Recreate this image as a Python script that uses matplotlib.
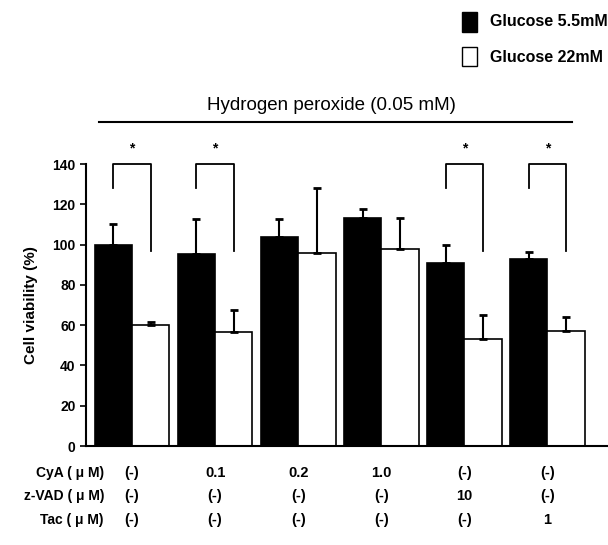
import matplotlib
matplotlib.use("Agg")
import matplotlib.pyplot as plt
from matplotlib.patches import Rectangle
import numpy as np

plt.rcParams['font.family'] = ['Liberation Sans', 'DejaVu Sans']

# valores
grupos = np.arange(6)
glucosa_55 = [100, 95.5, 104, 113, 91, 93]
glucosa_55_err = [10, 17, 8.5, 4.5, 9, 3.5]
glucosa_22 = [60, 56.5, 96, 98, 53, 57]
glucosa_22_err = [1.5, 11, 32, 15, 12, 7]
significativo = [0, 1, 4, 5]

filas = ["CyA ( \u03bc M)", "z-VAD ( \u03bc M)", "Tac ( \u03bc M)"]
valores_tabla = [
    ["(-)", "0.1", "0.2", "1.0", "(-)", "(-)"],
    ["(-)", "(-)", "(-)", "(-)", "10", "(-)"],
    ["(-)", "(-)", "(-)", "(-)", "(-)", "1"],
]

fig = plt.figure(figsize=(6.08, 5.45), dpi=100)
ax = fig.add_axes([86/608, 99/545, 1 - 86/608, 282/545])

ancho = 0.45
ax.bar(grupos - ancho/2, glucosa_55, ancho, color="black", edgecolor="black", linewidth=1.2)
ax.bar(grupos + ancho/2, glucosa_22, ancho, color="white", edgecolor="black", linewidth=1.2)
ax.errorbar(grupos - ancho/2, glucosa_55, yerr=[np.zeros(6), glucosa_55_err], fmt="none",
            ecolor="black", elinewidth=1.5, capsize=3, capthick=2)
ax.errorbar(grupos + ancho/2, glucosa_22, yerr=[np.zeros(6), glucosa_22_err], fmt="none",
            ecolor="black", elinewidth=1.5, capsize=3, capthick=2)

ax.set_xlim(-0.554, 5.73)
ax.set_ylim(0, 140)
ax.set_yticks(range(0, 141, 20))
ax.set_xticks([])
for s in ["top", "right"]:
    ax.spines[s].set_visible(False)
ax.spines["left"].set_linewidth(1.5)
ax.spines["bottom"].set_linewidth(1.5)
ax.tick_params(axis="y", length=4, width=1.2, labelsize=10)
for t in ax.get_yticklabels():
    t.set_fontweight("bold")
ax.set_ylabel("Cell viability (%)", fontsize=11, fontweight="bold", labelpad=10)

# corchetes de significancia
for g in significativo:
    x1 = g - ancho/2
    x2 = g + ancho/2
    y_top = 140
    ax.plot([x1, x1, x2, x2], [y_top - 12, y_top, y_top, 97], color="black", lw=1.3, clip_on=False)
    ax.text(g, y_top + 4, "*", ha="center", va="bottom", fontsize=10, fontweight="bold")

# titulo y linea
ax.plot([-0.4, 5.3], [161, 161], color="black", lw=1.5, clip_on=False)
ax.text(2.4, 165, "Hydrogen peroxide (0.05 mM)", ha="center", va="bottom", fontsize=13.5)

# tabla de tratamientos
ys = [473, 496, 520]
for fila, vals, y in zip(filas, valores_tabla, ys):
    yf = 1 - y/545
    fig.text(104/608, yf, fila, ha="right", va="center", fontsize=10, fontweight="bold")
    for g, v in zip(grupos, vals):
        xd = ax.transData.transform((g, 0))[0]
        xf = fig.transFigure.inverted().transform((xd, 0))[0]
        fig.text(xf, yf, v, ha="center", va="center", fontsize=10.5, fontweight="bold")

# leyenda
fig.patches.append(Rectangle((462/608, 1 - 32/545), 15/608, 20/545, transform=fig.transFigure,
                             facecolor="black", edgecolor="black"))
fig.patches.append(Rectangle((462/608, 1 - 66/545), 15/608, 19/545, transform=fig.transFigure,
                             facecolor="white", edgecolor="black", lw=1))
fig.text(490/608, 1 - 22/545, "Glucose 5.5mM", ha="left", va="center", fontsize=11.5, fontweight="bold")
fig.text(490/608, 1 - 57/545, "Glucose 22mM", ha="left", va="center", fontsize=11.5, fontweight="bold")

fig.savefig("out.png", dpi=100)
